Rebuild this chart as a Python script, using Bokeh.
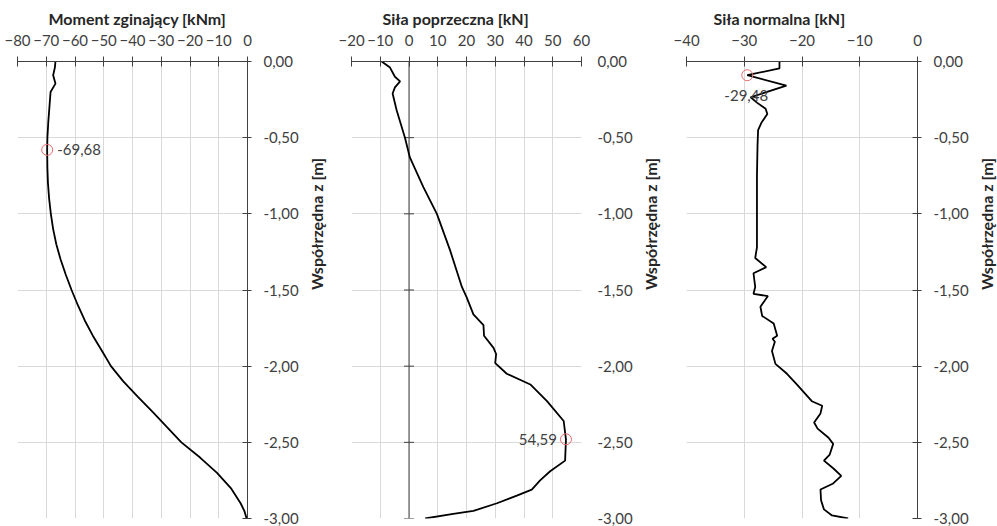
import math
from bokeh.plotting import figure
from bokeh.layouts import row
from bokeh.models import Range1d, FixedTicker
from bokeh.core.properties import value
from bokeh.embed import file_html
from bokeh.resources import INLINE

# ---------------- data ----------------
z_ticks = [0.0, -0.5, -1.0, -1.5, -2.0, -2.5, -3.0]

# Moment zginający [kNm]
m_title = "Moment zginający [kNm]"
m_ticks = [-80, -70, -60, -50, -40, -30, -20, -10, 0]
m_z = [0, -0.04, -0.09, -0.145, -0.2, -0.3, -0.4, -0.5, -0.58, -0.7, -0.8, -0.9,
       -1.0, -1.1, -1.2, -1.3, -1.4, -1.5, -1.6, -1.7, -1.8, -1.9, -2.0, -2.1,
       -2.2, -2.3, -2.4, -2.5, -2.6, -2.7, -2.8, -2.9, -2.95, -3.0]
m_val = [-66.8, -67.0, -67.6, -66.8, -68.5, -68.9, -69.3, -69.6, -69.68, -69.6, -69.4, -69.0,
         -68.4, -67.6, -66.5, -65.0, -63.2, -61.2, -59.0, -56.6, -53.8, -50.6, -47.5, -43.2,
         -38.2, -33.0, -28.0, -23.0, -16.5, -10.6, -5.8, -2.4, -1.1, -0.3]
m_peak_z = -0.58
m_peak = -69.68

# Siła poprzeczna [kN]
v_title = "Siła poprzeczna [kN]"
v_ticks = [-20, -10, 0, 10, 20, 30, 40, 50, 60]
v_z = [0, -0.04, -0.1, -0.13, -0.17, -0.21, -0.32, -0.5, -0.63, -0.825, -1.0, -1.24,
       -1.48, -1.55, -1.66, -1.73, -1.8, -1.88, -1.92, -1.98, -2.05, -2.12, -2.23,
       -2.36, -2.48, -2.62, -2.69, -2.75, -2.81, -2.85, -2.9, -2.95, -2.97, -3.0]
v_val = [-9.5, -6.6, -4.9, -3.1, -4.9, -5.7, -4.3, -1.4, 0.3, 5.0, 9.7, 14.3,
         18.4, 20.1, 22.4, 25.9, 26.1, 29.4, 30.3, 30.0, 34.0, 42.2, 48.0,
         53.8, 54.59, 54.3, 49.1, 45.6, 42.7, 37.5, 30.6, 22.4, 15.4, 5.6]
v_peak_z = -2.48
v_peak = 54.59

# Siła normalna [kN]
n_title = "Siła normalna [kN]"
n_ticks = [-40, -30, -20, -10, 0]
n_z = [0, -0.045, -0.09, -0.158, -0.235, -0.27, -0.31, -0.345, -0.40, -0.45, -0.55,
       -0.75, -1.0, -1.22, -1.29, -1.35, -1.39, -1.48, -1.525, -1.54, -1.61, -1.67,
       -1.72, -1.8, -1.82, -1.84, -1.9, -1.985, -2.05, -2.12, -2.17, -2.23, -2.26,
       -2.31, -2.37, -2.41, -2.47, -2.51, -2.58, -2.62, -2.67, -2.72, -2.77, -2.81,
       -2.88, -2.94, -2.98, -3.0]
n_val = [-23.9, -23.9, -29.48, -22.7, -28.9, -27.8, -26.3, -26.0, -27.0, -27.6, -27.7,
         -27.8, -27.8, -27.8, -28.1, -26.2, -28.4, -28.1, -28.4, -25.9, -27.2, -26.9,
         -24.9, -24.3, -25.1, -24.7, -25.2, -24.6, -22.6, -20.9, -19.7, -18.3, -16.5,
         -16.8, -17.9, -17.3, -15.4, -14.6, -15.2, -16.2, -14.6, -13.2, -14.6, -16.8,
         -16.7, -16.2, -14.8, -12.0]
n_peak_z = -0.09
n_peak = -29.48

y_label = "Współrzędna z [m]"

FONT = "Lato"
TXT = "#404040"
AX = "#404040"
GRID = "#d9d9d9"


def fmt(v):
    return f"{v:.2f}".replace(".", ",")


def panel(title, ticks, zs, vals, pz, pv, label_pos, border_l, border_r, title_off, fw, mid_axis):
    p = figure(frame_width=fw, frame_height=457,
               x_range=Range1d(ticks[0], ticks[-1]), y_range=Range1d(z_ticks[-1], z_ticks[0]),
               x_axis_location="above", y_axis_location="right",
               output_backend="svg", toolbar_location=None,
               min_border_left=border_l, min_border_right=border_r,
               min_border_top=61, min_border_bottom=8)
    p.outline_line_color = None
    p.background_fill_color = "white"
    p.border_fill_color = "white"

    p.title.text = title
    p.title.text_font = FONT
    p.title.text_font_size = "16px"
    p.title.text_font_style = "bold"
    p.title.text_color = "#262626"
    p.title.align = "left"
    p.title.offset = title_off
    p.title.standoff = 7

    xa = p.xaxis[0]
    xa.ticker = FixedTicker(ticks=ticks)
    xa.major_label_text_font = FONT
    xa.major_label_text_font_size = "15px"
    xa.major_label_text_color = TXT
    xa.axis_line_color = AX
    xa.major_tick_line_color = AX
    xa.major_tick_in = 5
    xa.major_tick_out = 5
    xa.minor_tick_line_color = None
    xa.major_label_standoff = 11

    ya = p.yaxis[0]
    ya.ticker = FixedTicker(ticks=z_ticks)
    ya.major_label_overrides = {t: fmt(t) for t in z_ticks}
    ya.major_label_text_font = FONT
    ya.major_label_text_font_size = "15px"
    ya.major_label_text_color = TXT
    ya.minor_tick_line_color = None
    ya.axis_label = y_label
    ya.axis_label_text_font = FONT
    ya.axis_label_text_font_size = "16px"
    ya.axis_label_text_font_style = "bold"
    ya.axis_label_text_color = "#262626"
    ya.axis_label_orientation = math.pi / 2
    ya.axis_label_standoff = 15
    if mid_axis:
        ya.axis_line_color = None
        ya.major_tick_line_color = None
        ya.major_tick_in = 0
        ya.major_tick_out = 4
        ya.major_label_standoff = 12
    else:
        ya.axis_line_color = AX
        ya.major_tick_line_color = AX
        ya.major_tick_in = 5
        ya.major_tick_out = 4
        ya.major_label_standoff = 12

    p.xgrid.grid_line_color = GRID
    p.ygrid.grid_line_color = GRID

    if mid_axis:
        p.segment(x0=[0], y0=[z_ticks[0]], x1=[0], y1=[z_ticks[-1]], line_color=AX, line_width=1)
        p.scatter(x=[0] * len(z_ticks), y=z_ticks, marker="dash", size=10, line_color=AX, line_width=1)

    p.line(vals, zs, line_color="black", line_width=1.8)
    p.scatter([pv], [pz], marker="circle", size=11, fill_color=None, line_color="#e46c6c", line_width=1)

    if label_pos == "right":
        kw = dict(text_align="left", text_baseline="middle", x_offset=10, y_offset=0)
    elif label_pos == "left":
        kw = dict(text_align="right", text_baseline="middle", x_offset=-9, y_offset=0)
    else:
        kw = dict(text_align="center", text_baseline="middle", x_offset=-1, y_offset=20)
    p.text(x=[pv], y=[pz], text=[fmt(pv)], text_font=value(FONT), text_font_size="15px",
           text_color=TXT, **kw)
    return p


p1 = panel(m_title, m_ticks, m_z, m_val, m_peak_z, m_peak, "right", 17, 91, 31, 230, False)
p2 = panel(v_title, v_ticks, v_z, v_val, v_peak_z, v_peak, "left", 13, 92, 31, 230, True)
p3 = panel(n_title, n_ticks, n_z, n_val, n_peak_z, n_peak, "below", 13, 78, 27, 231, False)

layout = row(p1, p2, p3)
open("out.html", "w").write(file_html(layout, INLINE))
